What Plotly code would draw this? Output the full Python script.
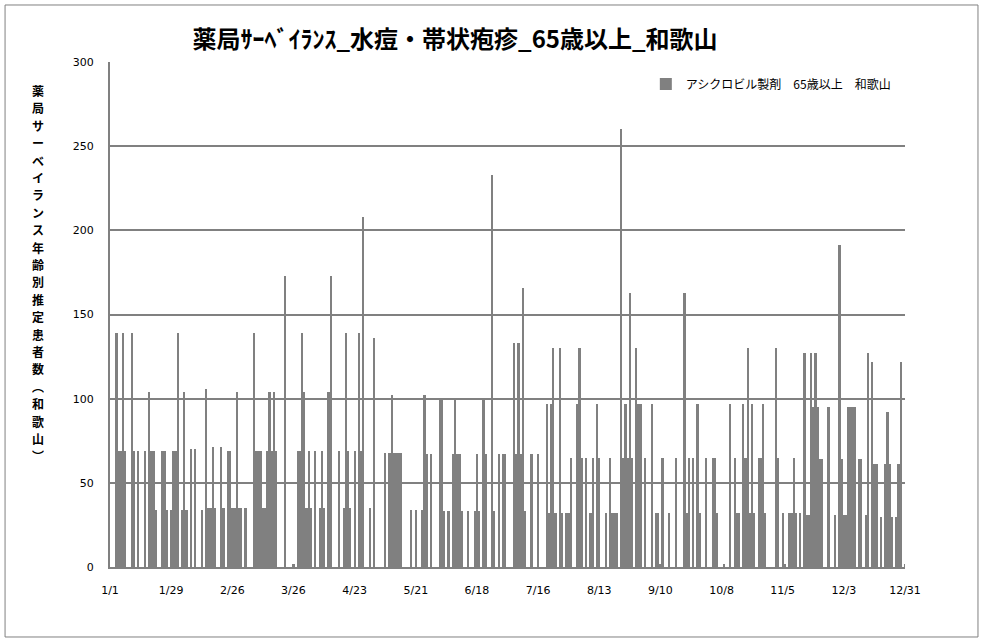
import pandas as pd
import plotly.graph_objects as go

# 日別の推定患者数（読み取り値）
jan = [0, 0, 0, 139, 69, 69, 139, 69, 0, 0, 139, 69, 0, 69, 0, 0, 69, 0, 104, 69, 69, 34, 0, 0, 69, 69, 34, 0, 34, 69, 69]
feb = [139, 0, 34, 104, 34, 0, 70, 0, 70, 0, 0, 34, 0, 106, 35, 35, 71, 35, 0, 0, 71, 35, 0, 69, 69, 35, 35, 104]
mar = [35, 35, 0, 35, 0, 0, 0, 139, 69, 69, 69, 35, 35, 69, 104, 69, 104, 69, 0, 0, 0, 173, 0, 0, 0, 2, 0, 69, 69, 139, 104]
apr = [35, 69, 35, 0, 69, 0, 35, 69, 35, 0, 104, 173, 0, 0, 0, 69, 0, 35, 139, 69, 35, 0, 69, 0, 139, 69, 208, 0, 0, 35]
may = [0, 136, 0, 0, 0, 0, 68, 0, 68, 102, 68, 68, 68, 68, 0, 0, 0, 0, 34, 0, 34, 0, 0, 34, 102, 67, 0, 67, 0, 0, 0]
jun = [100, 100, 33, 0, 33, 0, 67, 100, 67, 67, 33, 0, 0, 33, 0, 0, 33, 67, 33, 0, 100, 67, 0, 0, 233, 33, 0, 67, 0, 67]
jul = [67, 0, 0, 0, 133, 67, 133, 67, 166, 33, 0, 0, 67, 0, 0, 67, 0, 0, 0, 97, 32, 97, 130, 32, 0, 130, 32, 0, 32, 32, 65]
aug = [0, 0, 97, 130, 65, 0, 65, 0, 32, 65, 0, 97, 65, 0, 0, 32, 0, 65, 32, 32, 32, 0, 260, 65, 97, 65, 163, 65, 0, 130, 97]
sep = [97, 0, 65, 0, 0, 97, 0, 32, 32, 2, 65, 0, 0, 32, 0, 0, 65, 0, 0, 0, 163, 32, 65, 0, 65, 0, 97, 32, 0, 0]
oct_ = [65, 0, 0, 65, 65, 32, 0, 0, 2, 0, 0, 97, 0, 65, 32, 32, 0, 97, 65, 130, 32, 97, 32, 0, 65, 65, 97, 32, 0, 0, 0]
nov = [0, 130, 65, 0, 32, 2, 0, 32, 32, 65, 32, 0, 32, 0, 127, 31, 31, 127, 95, 127, 95, 64, 64, 0, 0, 95, 0, 0, 31, 0]
dec = [191, 64, 31, 31, 95, 95, 95, 95, 0, 64, 64, 0, 31, 127, 0, 122, 61, 61, 0, 30, 0, 61, 92, 61, 30, 0, 30, 61, 122, 0, 2]

series_name = "アシクロビル製剤　65歳以上　和歌山"
title_text = "薬局ｻｰﾍﾞｲﾗﾝｽ_水痘・帯状疱疹_65歳以上_和歌山"
ytitle = "薬局サーベイランス年齢別推定患者数︵和歌山︶"

values = jan + feb + mar + apr + may + jun + jul + aug + sep + oct_ + nov + dec
dates = pd.date_range("2019-01-01", periods=len(values), freq="D")

jp = "Noto Sans CJK JP"
grey = "#808080"

fig = go.Figure()
fig.add_trace(go.Bar(
    x=dates, y=values, name=series_name,
    marker=dict(color=grey, line=dict(width=0)),
    showlegend=True,
))

fig.update_layout(
    width=983, height=644,
    margin=dict(l=110, r=78, t=62, b=77),
    paper_bgcolor="white", plot_bgcolor="white",
    bargap=0,
    font=dict(family="DejaVu Sans", size=11, color="black"),
    title=dict(text="<b>" + title_text + "</b>", x=0.434, xref="paper", xanchor="center",
               y=0.938, yref="container", yanchor="middle",
               font=dict(family=jp, size=24, color="black")),
    legend=dict(x=0.674, y=0.985, xanchor="left", yanchor="top",
                bgcolor="rgba(0,0,0,0)", font=dict(family=jp, size=12),
                itemwidth=30),
)

fig.update_xaxes(
    type="date", range=["2019-01-01", "2019-12-31"],
    tick0="2019-01-01", dtick=28 * 86400000, tickformat="%-m/%-d",
    showgrid=False, showline=True, linecolor=grey, linewidth=2,
    ticks="", ticklabelstandoff=12, zeroline=False,
)
fig.update_yaxes(
    range=[0, 300], dtick=50, showgrid=True, gridcolor=grey, gridwidth=2,
    showline=True, linecolor=grey, linewidth=2, ticks="",
    ticklabelstandoff=12, zeroline=False,
)

# 縦書きの軸タイトル（1文字ずつ積む）
top_px, step_px, plot_top, plot_h = 90, 17.4, 62, 505
for i, ch in enumerate(ytitle):
    py = top_px + i * step_px
    fig.add_annotation(
        text="<b>" + ch + "</b>",
        xref="paper", yref="paper", x=-0.0906, y=(plot_top + plot_h - py) / plot_h,
        xanchor="center", yanchor="middle", showarrow=False,
        height=16, borderpad=0,
        font=dict(family=jp, size=12, color="black"),
    )

# グラフエリアの枠
fig.add_shape(type="rect", xref="paper", yref="paper",
              x0=-0.132, x1=1.0918, y0=-0.1386, y1=1.1129,
              line=dict(color=grey, width=1), fillcolor="rgba(0,0,0,0)", layer="below")

fig.write_html("out.html", config={"displayModeBar": False},
               post_script="document.body.style.margin='0';")
